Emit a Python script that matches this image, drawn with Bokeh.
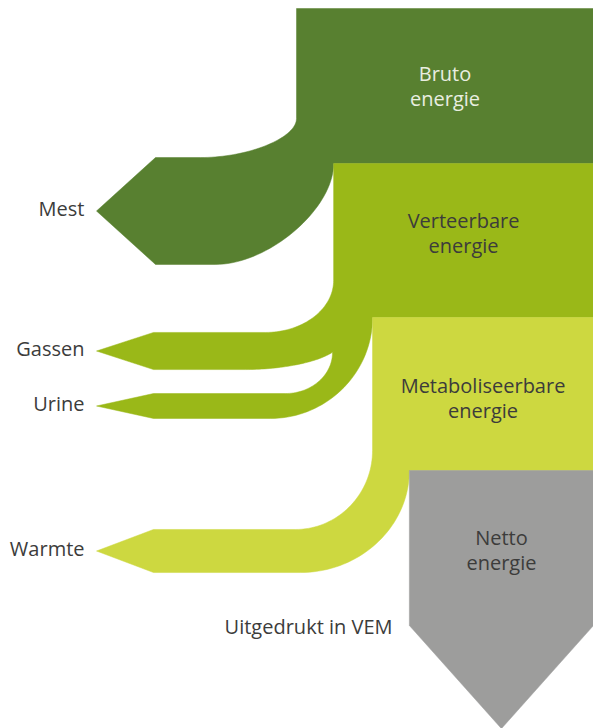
import numpy as np
from bokeh.plotting import figure
from bokeh.models import Range1d
from bokeh.core.properties import value
from bokeh.embed import file_html
from bokeh.resources import INLINE

# ---------------- data ----------------
stage_line1 = ["Bruto", "Verteerbare", "Metaboliseerbare", "Netto"]
stage_line2 = ["energie", "energie", "energie", "energie"]
stage_energy = [100.0, 87.5, 74.4, 62.0]          # relative energy (column width)
loss_labels = ["Mest", "Gassen", "Urine", "Warmte"]
loss_energy = [36.0, 12.5, 8.4, 14.5]             # relative loss (arrow thickness)
unit_note = "Uitgedrukt in VEM"

# ---------------- style / layout ----------------
stage_colors = ["#588030", "#9ab818", "#cdd840", "#9d9d9c"]
stage_text_colors = ["#e9eee0", "#3c3c3b", "#3c3c3b", "#3c3c3b"]
label_color = "#3c3c3b"
FONT = value("Open Sans")
FS = "20px"
PX = 2.97                       # pixels per energy unit
X_RIGHT = 593.0
Y_TOP = [8.0, 163.0, 317.0, 470.0]
Y_BOTTOM_NET = 625.0
TIP_SLOPE = 1.12
ARROW_Y = [210.5, 350.5, 405.5, 550.5]
ARROW_BASE = [155.0, 153.0, 153.0, 153.0]
ARROW_TIP = 96.0
DY_TEXT = -7

left = [X_RIGHT - e * PX for e in stage_energy]
half = [l * PX / 2 for l in loss_energy]


def corner(a, b, ka=0.55, kb=0.55, n=40):
    """Cubic curve from a (vertical tangent) to b (horizontal tangent)."""
    p0 = np.array(a, float)
    p3 = np.array(b, float)
    p1 = np.array([a[0], a[1] + ka * (b[1] - a[1])])
    p2 = np.array([b[0] + kb * (a[0] - b[0]), b[1]])
    t = np.linspace(0, 1, n)[:, None]
    pts = ((1 - t) ** 3) * p0 + 3 * ((1 - t) ** 2) * t * p1 + 3 * (1 - t) * t ** 2 * p2 + t ** 3 * p3
    return [tuple(p) for p in pts]


def bez(p0, p1, p2, p3, n=40):
    P = [np.array(p, float) for p in (p0, p1, p2, p3)]
    t = np.linspace(0, 1, n)[:, None]
    pts = ((1 - t) ** 3) * P[0] + 3 * ((1 - t) ** 2) * t * P[1] + 3 * (1 - t) * t ** 2 * P[2] + t ** 3 * P[3]
    return [tuple(p) for p in pts]


def arrow(i):
    yc = ARROW_Y[i]
    return [(ARROW_BASE[i], yc + half[i]), (ARROW_TIP, yc), (ARROW_BASE[i], yc - half[i])]


shapes = []

# Bruto + Mest
m_top, m_bot = ARROW_Y[0] - half[0], ARROW_Y[0] + half[0]
pts = [(left[0], Y_TOP[0]), (X_RIGHT, Y_TOP[0]), (X_RIGHT, Y_TOP[1]), (left[1], Y_TOP[1])]
pts += corner((left[1], Y_TOP[1]), (215, m_bot), 0.45, 0.45)
pts += arrow(0)
pts += corner((left[0], 118), (200, m_top), 0.5, 0.5)[::-1]
shapes.append(pts)

# Verteerbare + Gassen + Urine
g_top, g_bot = ARROW_Y[1] - half[1], ARROW_Y[1] + half[1]
u_top, u_bot = ARROW_Y[2] - half[2], ARROW_Y[2] + half[2]
pts = [(left[1], Y_TOP[1]), (X_RIGHT, Y_TOP[1]), (X_RIGHT, Y_TOP[2]), (left[2], Y_TOP[2])]
pts += corner((left[2], Y_TOP[2]), (270, u_bot))
pts += arrow(2)
pts += corner((332, 352), (285, u_top))[::-1]
pts += bez((333, 351), (318, 362), (280, g_bot), (245, g_bot))
pts += arrow(1)
pts += corner((left[1], 280), (265, g_top))[::-1]
shapes.append(pts)

# Metaboliseerbare + Warmte
w_top, w_bot = ARROW_Y[3] - half[3], ARROW_Y[3] + half[3]
pts = [(left[2], Y_TOP[2]), (X_RIGHT, Y_TOP[2]), (X_RIGHT, Y_TOP[3]), (left[3], Y_TOP[3])]
pts += corner((left[3], Y_TOP[3]), (300, w_bot))
pts += arrow(3)
pts += corner((left[2], 450), (295, w_top))[::-1]
shapes.append(pts)

# Netto
net_w = X_RIGHT - left[3]
pts = [(left[3], Y_TOP[3]), (X_RIGHT, Y_TOP[3]), (X_RIGHT, Y_BOTTOM_NET),
       (left[3] + net_w / 2, Y_BOTTOM_NET + TIP_SLOPE * net_w / 2), (left[3], Y_BOTTOM_NET)]
shapes.append(pts)

p = figure(width=593, height=728, x_range=Range1d(0, 593), y_range=Range1d(728, 0),
           output_backend="svg", toolbar_location=None, min_border=0)
p.axis.visible = False
p.grid.visible = False
p.outline_line_color = None
p.background_fill_color = "white"
p.border_fill_color = "white"

p.patches(xs=[[q[0] for q in s] for s in shapes], ys=[[q[1] for q in s] for s in shapes],
          fill_color=stage_colors, line_color=stage_colors, line_width=0.5)

# stage labels
base1 = [80 + DY_TEXT, 227 + DY_TEXT, 392 + DY_TEXT, 544 + DY_TEXT]
cx = [(l + X_RIGHT) / 2 for l in left]
p.text(x=cx, y=base1, text=stage_line1, text_color=stage_text_colors, text_font=FONT,
       text_font_size=FS, text_align="center", text_baseline="alphabetic")
p.text(x=cx, y=[b + 25 for b in base1], text=stage_line2, text_color=stage_text_colors,
       text_font=FONT, text_font_size=FS, text_align="center", text_baseline="alphabetic")

# loss labels
p.text(x=[84] * 4, y=[y + 4 + DY_TEXT for y in ARROW_Y], text=loss_labels, text_color=label_color,
       text_font=FONT, text_font_size=FS, text_align="right", text_baseline="alphabetic")
p.text(x=[392], y=[633 + DY_TEXT], text=[unit_note], text_color=label_color, text_font=FONT,
       text_font_size=FS, text_align="right", text_baseline="alphabetic")

open("out.html", "w").write(file_html(p, INLINE))
